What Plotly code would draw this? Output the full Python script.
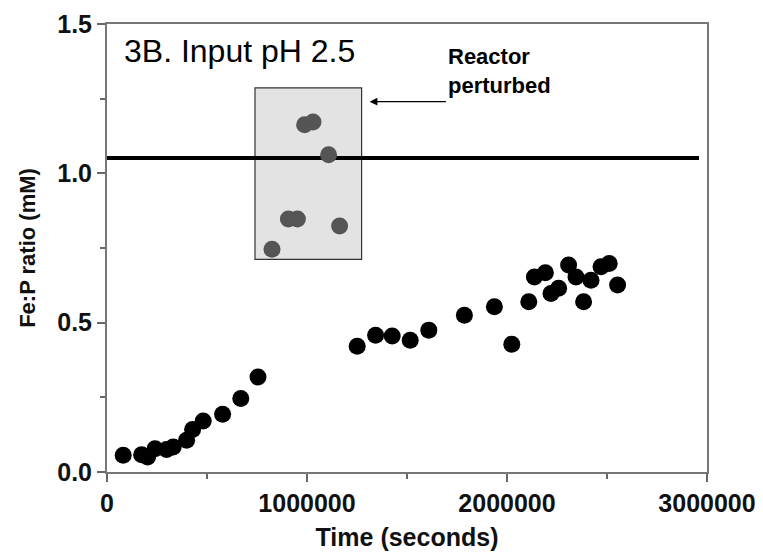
import plotly.graph_objects as go

# Main series (black points)
time_s = [81000, 173000, 203000, 240000, 298000, 331000, 398000, 428000, 481000,
          578000, 669000, 755000, 1251000, 1343000, 1426000, 1516000, 1609000,
          1787000, 1937000, 2024000, 2109000, 2137000, 2192000, 2220000, 2258000,
          2308000, 2345000, 2383000, 2420000, 2470000, 2511000, 2553000]
fe_p = [0.056, 0.058, 0.050, 0.078, 0.075, 0.084, 0.106, 0.142, 0.171,
        0.193, 0.246, 0.318, 0.421, 0.458, 0.455, 0.441, 0.475,
        0.525, 0.553, 0.428, 0.570, 0.653, 0.667, 0.598, 0.615,
        0.693, 0.653, 0.570, 0.642, 0.687, 0.698, 0.626]

# Perturbed reactor points (grey)
pert_time = [825000, 907000, 952000, 988000, 1030000, 1108000, 1163000]
pert_fe_p = [0.746, 0.847, 0.847, 1.163, 1.172, 1.062, 0.824]

# Reference level and perturbation window
ref_level = 1.051
ref_span = [0, 2960000]
box_x = [740000, 1273000]
box_y = [0.712, 1.286]

x_ticks = [0, 1000000, 2000000, 3000000]
x_ticktext = ["0", "1000000", "2000000", "3000000"]
y_ticks = [0.0, 0.5, 1.0, 1.5]
y_ticktext = ["0.0", "0.5", "1.0", "1.5"]

FONT = "Liberation Sans, Arial, sans-serif"

fig = go.Figure()

fig.add_shape(type="rect", xref="x", yref="y",
              x0=box_x[0], x1=box_x[1], y0=box_y[0], y1=box_y[1],
              fillcolor="#e3e3e3", line=dict(color="#333333", width=1.2), layer="below")
fig.add_shape(type="line", xref="x", yref="y",
              x0=ref_span[0], x1=ref_span[1], y0=ref_level, y1=ref_level,
              line=dict(color="black", width=4), layer="below")

fig.add_trace(go.Scatter(x=time_s, y=fe_p, mode="markers",
                         marker=dict(color="black", size=17, line=dict(width=0)),
                         showlegend=False))
fig.add_trace(go.Scatter(x=pert_time, y=pert_fe_p, mode="markers",
                         marker=dict(color="#555555", size=17, line=dict(width=0)),
                         showlegend=False))

# Title text inside plot
fig.add_annotation(x=0.025, y=1.475, xref="paper", yref="y", xanchor="left", yanchor="top",
                   text="3B. Input pH 2.5", showarrow=False,
                   font=dict(family=FONT, size=32, color="black"))

# Arrow
fig.add_annotation(x=1313000, y=1.240, ax=1702000, ay=1.240, xref="x", yref="y",
                   axref="x", ayref="y", text="", showarrow=True,
                   arrowhead=2, arrowsize=1.2, arrowwidth=1.3, arrowcolor="black")
fig.add_annotation(x=1695000, y=1.44, xref="x", yref="y", xanchor="left", yanchor="top",
                   text="<b>Reactor<br>perturbed</b>", showarrow=False, align="left",
                   font=dict(family=FONT, size=22, color="black"))

fig.update_xaxes(range=[0, 3000000], tickvals=x_ticks, ticktext=x_ticktext,
                 ticks="outside", ticklen=8, tickwidth=1.5, tickcolor="#666666",
                 minor=dict(ticks="outside", ticklen=5, tickwidth=1.5, tickcolor="#666666",
                            dtick=500000, showgrid=False),
                 showline=True, linecolor="#777777", linewidth=2, mirror=True,
                 showgrid=False, zeroline=False, automargin=False,
                 tickfont=dict(family=FONT, size=25, color="#111111", weight="bold"),
                 title=dict(text="Time (seconds)", standoff=12,
                            font=dict(family=FONT, size=25, color="#111111", weight="bold")))
fig.update_yaxes(range=[0, 1.5], tickvals=y_ticks, ticktext=y_ticktext,
                 ticks="outside", ticklen=8, tickwidth=1.5, tickcolor="#666666",
                 minor=dict(ticks="outside", ticklen=5, tickwidth=1.5, tickcolor="#666666",
                            dtick=0.25, showgrid=False),
                 showline=True, linecolor="#777777", linewidth=2, mirror=True,
                 showgrid=False, zeroline=False, automargin=False,
                 tickfont=dict(family=FONT, size=25, color="#111111", weight="bold"),
                 title=dict(text="Fe:P ratio (mM)", standoff=16,
                            font=dict(family=FONT, size=22, color="#111111", weight="bold")))

fig.update_layout(width=763, height=552,
                  margin=dict(l=99, r=64, t=16, b=88),
                  paper_bgcolor="white", plot_bgcolor="white",
                  font=dict(family=FONT, color="black"))

fig.write_html("out.html")
